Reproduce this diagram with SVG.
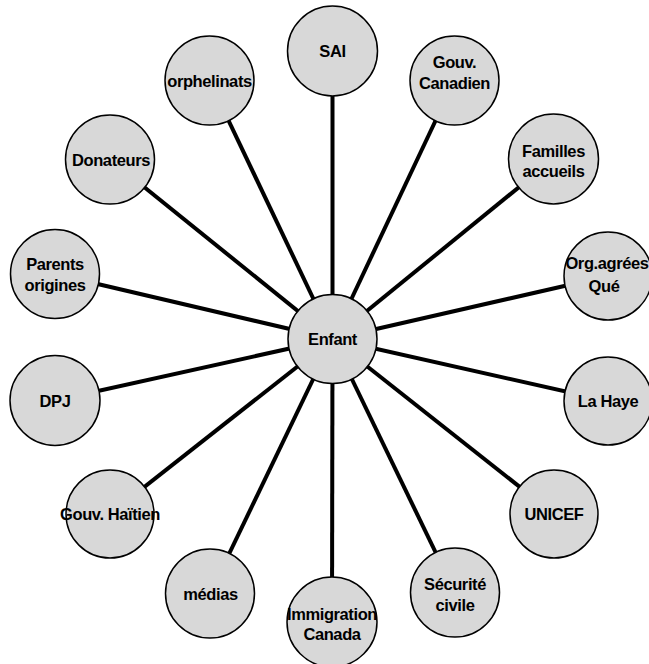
<svg xmlns="http://www.w3.org/2000/svg" width="649" height="664" viewBox="0 0 649 664">
  <style>
    .link { stroke: #000; stroke-width: 4; stroke-linecap: butt; }
    .node circle { fill: #d8d8d8; stroke: #000; stroke-width: 1.5; }
    .node text { font-family: "Liberation Sans", Arial, sans-serif; font-weight: bold; font-size: 16.5px; fill: #000; text-anchor: middle; letter-spacing: -0.4px; }
  </style>
  <rect width="649" height="664" fill="#fff"/>

  <!-- spokes from the hub to every outer node -->
  <g id="connectors">
    <line class="link" x1="332.5" y1="339" x2="332.5" y2="51"/>
    <line class="link" x1="332.5" y1="339" x2="454.5" y2="80.5"/>
    <line class="link" x1="332.5" y1="339" x2="553.5" y2="159"/>
    <line class="link" x1="332.5" y1="339" x2="608" y2="276"/>
    <line class="link" x1="332.5" y1="339" x2="608" y2="401"/>
    <line class="link" x1="332.5" y1="339" x2="554" y2="514"/>
    <line class="link" x1="332.5" y1="339" x2="455" y2="592.5"/>
    <line class="link" x1="332.5" y1="339" x2="332" y2="622"/>
    <line class="link" x1="332.5" y1="339" x2="210" y2="593.5"/>
    <line class="link" x1="332.5" y1="339" x2="110" y2="514"/>
    <line class="link" x1="332.5" y1="339" x2="55" y2="400.5"/>
    <line class="link" x1="332.5" y1="339" x2="55" y2="274"/>
    <line class="link" x1="332.5" y1="339" x2="110" y2="159.5"/>
    <line class="link" x1="332.5" y1="339" x2="209.5" y2="80.5"/>
  </g>

  <g id="enfant" class="node">
    <circle cx="332.5" cy="339" r="44.5"/>
    <text x="332.5" y="345">Enfant</text>
  </g>
  <g id="sai" class="node">
    <circle cx="332.5" cy="51" r="45"/>
    <text x="332.5" y="57">SAI</text>
  </g>
  <g id="gouv-canadien" class="node">
    <circle cx="454.5" cy="80.5" r="44.5"/>
    <text x="454.5" y="67.5">Gouv.</text>
    <text x="454.5" y="89">Canadien</text>
  </g>
  <g id="familles-accueils" class="node">
    <circle cx="553.5" cy="159" r="45"/>
    <text x="553.5" y="157">Familles</text>
    <text x="553.5" y="177">accueils</text>
  </g>
  <g id="org-agrees" class="node">
    <circle cx="608" cy="276" r="44"/>
    <text x="607" y="269">Org.agrées</text>
    <text x="604" y="291.5">Qué</text>
  </g>
  <g id="la-haye" class="node">
    <circle cx="608" cy="401" r="44"/>
    <text x="608" y="407">La Haye</text>
  </g>
  <g id="unicef" class="node">
    <circle cx="554" cy="514" r="44"/>
    <text x="554" y="520">UNICEF</text>
  </g>
  <g id="securite-civile" class="node">
    <circle cx="455" cy="592.5" r="44.5"/>
    <text x="455" y="590">Sécurité</text>
    <text x="455" y="610.5">civile</text>
  </g>
  <g id="immigration-canada" class="node">
    <circle cx="332" cy="622" r="45"/>
    <text x="332" y="620">Immigration</text>
    <text x="332" y="640">Canada</text>
  </g>
  <g id="medias" class="node">
    <circle cx="210" cy="593.5" r="44.5"/>
    <text x="210.5" y="599.5">médias</text>
  </g>
  <g id="gouv-haitien" class="node">
    <circle cx="110" cy="514" r="44"/>
    <text x="110" y="520">Gouv. Haïtien</text>
  </g>
  <g id="dpj" class="node">
    <circle cx="55" cy="400.5" r="45"/>
    <text x="55" y="406.5">DPJ</text>
  </g>
  <g id="parents-origines" class="node">
    <circle cx="55" cy="274" r="44.5"/>
    <text x="55" y="270">Parents</text>
    <text x="55" y="291">origines</text>
  </g>
  <g id="donateurs" class="node">
    <circle cx="110" cy="159.5" r="44.5"/>
    <text x="111" y="165.5">Donateurs</text>
  </g>
  <g id="orphelinats" class="node">
    <circle cx="209.5" cy="80.5" r="44.5"/>
    <text x="209.5" y="86.5">orphelinats</text>
  </g>
</svg>
